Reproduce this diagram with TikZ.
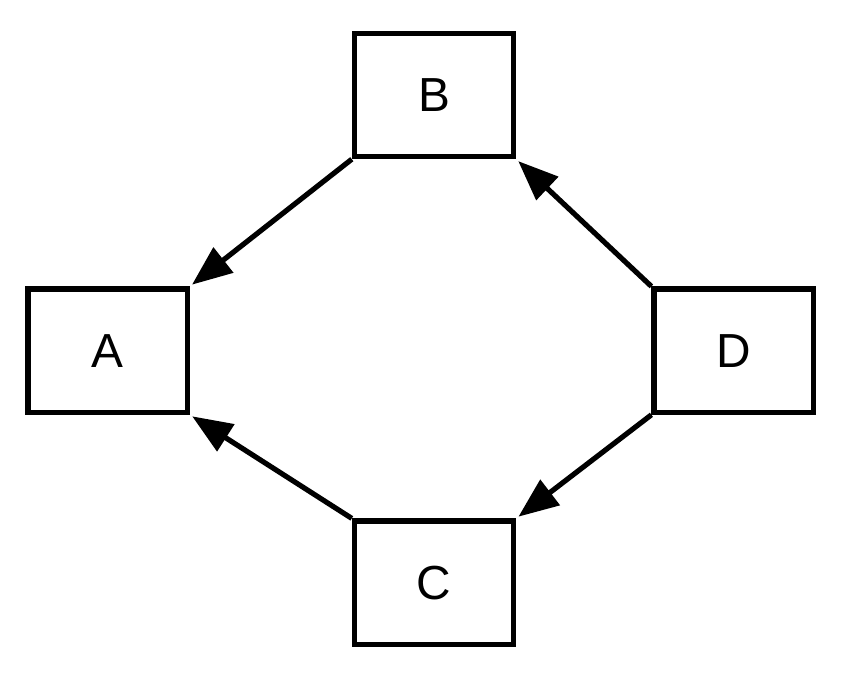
\documentclass[tikz,border=0pt]{standalone}
\usepackage{fontspec}
\setmainfont{Liberation Sans}
\usetikzlibrary{arrows.meta}

\begin{document}
\begin{tikzpicture}[
  font=\fontsize{34}{40}\selectfont,
  box/.style={draw, line width=0.13cm, minimum width=3.98cm, minimum height=3.08cm,
              inner sep=0pt},
  arr/.style={-{Triangle[length=1cm, width=0.78cm]}, line width=0.13cm, shorten >=2pt}
]
\useasboundingbox (0,0) rectangle (21.075,16.825);
\node[box] (a) at (2.69,8.06) {A};
\node[box] (b) at (10.85,14.45) {B};
\node[box] (d) at (18.34,8.06) {D};
\node[box] (c) at (10.85,2.26) {C};
\draw[arr] (b.south west) -- (a.north east);
\draw[arr] (d.north west) -- (b.south east);
\draw[arr] (d.south west) -- (c.north east);
\draw[arr] (c.north west) -- (a.south east);
\end{tikzpicture}
\end{document}
